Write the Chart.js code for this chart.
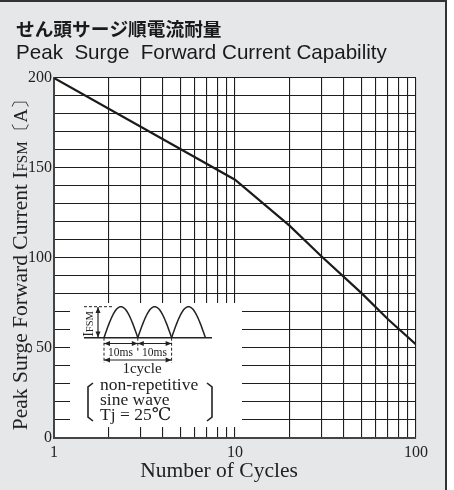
<!DOCTYPE html>
<html>
<head>
<meta charset="utf-8">
<script src="https://cdn.jsdelivr.net/npm/chart.js@4"></script>
<style>
  body { margin: 0; background: #fff; }
</style>
</head>
<body>
<canvas id="chart" width="454" height="490"></canvas>
<script>
const cycles = [1, 10, 20, 30, 50, 70, 100];
const surgeCurrent = [200, 143.5, 118, 101, 80.5, 66, 52];
const xGrid = [1, 2, 3, 4, 5, 6, 7, 8, 9, 10, 20, 30, 40, 50, 60, 70, 80, 90, 100];
const xLabels = [1, 10, 100];
const yLabels = [0, 50, 100, 150, 200];

const SERIF = "'Liberation Serif', 'DejaVu Serif', serif";
const INK = '#222';

const ctx = document.getElementById('chart');

function arrow(c, x1, y1, x2, y2) {
    // double headed arrow
    const a = Math.atan2(y2 - y1, x2 - x1);
    c.beginPath();
    c.moveTo(x1, y1);
    c.lineTo(x2, y2);
    c.stroke();
    [[x1, y1, a + Math.PI], [x2, y2, a]].forEach(([x, y, ang]) => {
        c.beginPath();
        c.moveTo(x, y);
        c.lineTo(x - 6 * Math.cos(ang) + 2.5 * Math.sin(ang), y - 6 * Math.sin(ang) - 2.5 * Math.cos(ang));
        c.lineTo(x - 6 * Math.cos(ang) - 2.5 * Math.sin(ang), y - 6 * Math.sin(ang) + 2.5 * Math.cos(ang));
        c.closePath();
        c.fill();
    });
}

function drawInset(c, ca) {
    c.save();
    c.translate(ca.left - 54, ca.bottom - 438);
    c.fillStyle = '#fff';
    c.fillRect(70, 303, 172, 124);

    c.strokeStyle = INK;
    c.fillStyle = INK;
    c.lineWidth = 1.5;

    // base line + three half sine humps
    c.beginPath();
    c.moveTo(84, 337.7);
    c.lineTo(212, 337.7);
    c.stroke();
    for (let i = 0; i < 3; i++) {
        const x0 = 104 + i * 33.8;
        c.beginPath();
        for (let k = 0; k <= 40; k++) {
            const t = k / 40;
            const x = x0 + t * 33.8;
            const y = 337.7 - 31 * Math.sin(Math.PI * t);
            if (k === 0) c.moveTo(x, y); else c.lineTo(x, y);
        }
        c.stroke();
    }

    // dashed guides
    c.lineWidth = 1;
    c.setLineDash([3, 2]);
    c.beginPath();
    c.moveTo(84, 306.7); c.lineTo(114, 306.7);
    c.moveTo(104, 337.7); c.lineTo(104, 363);
    c.moveTo(137.8, 337.7); c.lineTo(137.8, 352);
    c.moveTo(171.6, 337.7); c.lineTo(171.6, 363);
    c.stroke();
    c.setLineDash([]);

    c.lineWidth = 1.2;
    arrow(c, 98, 307, 98, 337.5);
    arrow(c, 104, 343.5, 137.8, 343.5);
    arrow(c, 137.8, 343.5, 171.6, 343.5);
    arrow(c, 104, 360, 171.6, 360);

    c.textBaseline = 'middle';
    c.textAlign = 'center';
    c.font = '11.5px ' + SERIF;
    c.fillText('10ms', 120.5, 353);
    c.fillText('10ms', 154.5, 353);
    c.font = '15px ' + SERIF;
    c.fillText('1cycle', 142, 369);

    // IFSM label, rotated
    c.save();
    c.translate(93, 324);
    c.rotate(-Math.PI / 2);
    c.textAlign = 'left';
    c.textBaseline = 'alphabetic';
    c.font = '14px ' + SERIF;
    const wI = c.measureText('I').width;
    c.font = '10.5px ' + SERIF;
    const wF = c.measureText('FSM').width;
    let sx = -(wI + wF) / 2;
    c.font = '14px ' + SERIF;
    c.fillText('I', sx, 0);
    c.font = '10.5px ' + SERIF;
    c.fillText('FSM', sx + wI, 0);
    c.restore();

    // conditions in brackets
    c.textAlign = 'left';
    c.font = '17.5px ' + SERIF;
    c.fillText('non-repetitive', 100, 385);
    c.fillText('sine wave', 100, 400);
    c.fillText('Tj = 25\u2103', 100, 415);

    c.lineWidth = 1.6;
    c.beginPath();
    c.moveTo(93, 383); c.lineTo(88, 387); c.lineTo(88, 417); c.lineTo(93, 421);
    c.moveTo(207, 383); c.lineTo(212, 387); c.lineTo(212, 417); c.lineTo(207, 421);
    c.stroke();
    c.restore();
}

const decor = {
    id: 'decor',
    beforeDraw(chart) {
        const c = chart.ctx;
        const ca = chart.chartArea;
        c.save();
        c.fillStyle = '#fff';
        c.fillRect(0, 0, chart.width, chart.height);
        c.fillStyle = '#e6e7e9';
        c.fillRect(0, 2, 446, chart.height - 2);
        c.strokeStyle = '#333';
        c.lineWidth = 2;
        c.beginPath();
        c.moveTo(0, 1);
        c.lineTo(446, 1);
        c.lineTo(446, chart.height);
        c.stroke();
        c.fillStyle = '#fff';
        c.fillRect(ca.left, ca.top, ca.right - ca.left, ca.bottom - ca.top);
        c.restore();
    },
    afterDatasetsDraw(chart) {
        drawInset(chart.ctx, chart.chartArea);
    },
    afterDraw(chart) {
        const c = chart.ctx;
        const ca = chart.chartArea;
        c.save();
        c.fillStyle = '#1a1a1a';
        c.textAlign = 'left';
        c.textBaseline = 'middle';
        c.font = "bold 18.7px 'Noto Sans CJK JP', sans-serif";
        c.fillText('せん頭サージ順電流耐量', 16, 29);
        c.textBaseline = 'alphabetic';
        c.font = "20.6px 'Liberation Sans', Arial, sans-serif";
        c.fillText('Peak  Surge  Forward Current Capability', 16, 59.3);

        // x axis title
        c.fillStyle = INK;
        c.textAlign = 'center';
        c.font = '21.5px ' + SERIF;
        c.fillText('Number of Cycles', 219, 476.5);

        // y axis title with small caps FSM
        const parts = [
            ['Peak Surge Forward Current I', '21.5px ' + SERIF],
            ['FSM', '15px ' + SERIF],
            ['\u3014A\u3015', '19px ' + SERIF]
        ];
        let total = 0;
        const widths = parts.map(([t, f]) => { c.font = f; const w = c.measureText(t).width; total += w; return w; });
        c.translate(27.3, (ca.top + ca.bottom) / 2 + 2);
        c.rotate(-Math.PI / 2);
        c.textAlign = 'left';
        let x = -total / 2;
        parts.forEach(([t, f], i) => {
            c.font = f;
            c.fillText(t, x, 0);
            x += widths[i];
        });
        c.restore();
    }
};

new Chart(ctx, {
    type: 'line',
    data: {
        datasets: [{
            data: cycles.map((v, i) => ({ x: v, y: surgeCurrent[i] })),
            borderColor: '#1b1b1b',
            borderWidth: 2.2,
            pointRadius: 0,
            tension: 0
        }]
    },
    options: {
        responsive: false,
        animation: false,
        layout: { padding: { left: 0, top: 78, right: 38, bottom: 0 } },
        plugins: {
            legend: { display: false },
            title: { display: false },
            tooltip: { enabled: false }
        },
        scales: {
            x: {
                type: 'logarithmic',
                min: 1,
                max: 100,
                afterBuildTicks: s => { s.ticks = xGrid.map(v => ({ value: v })); },
                afterFit: s => { s.height = 52; },
                grid: { color: '#1e1e1e', lineWidth: 1.1, drawTicks: false },
                border: { display: true, color: '#444', width: 2 },
                ticks: {
                    autoSkip: false,
                    maxRotation: 0,
                    padding: 5,
                    color: INK,
                    font: { family: SERIF, size: 16 },
                    callback: v => xLabels.includes(v) ? String(v) : ''
                }
            },
            y: {
                min: 0,
                max: 200,
                afterFit: s => { s.width = 54; },
                grid: { color: '#1e1e1e', lineWidth: 1.1, drawTicks: false },
                border: { display: true, color: '#444', width: 2 },
                ticks: {
                    stepSize: 10,
                    autoSkip: false,
                    padding: 2,
                    color: INK,
                    font: { family: SERIF, size: 16 },
                    callback: v => yLabels.includes(v) ? String(v) : ''
                }
            }
        }
    },
    plugins: [decor]
});
</script>
</body>
</html>
